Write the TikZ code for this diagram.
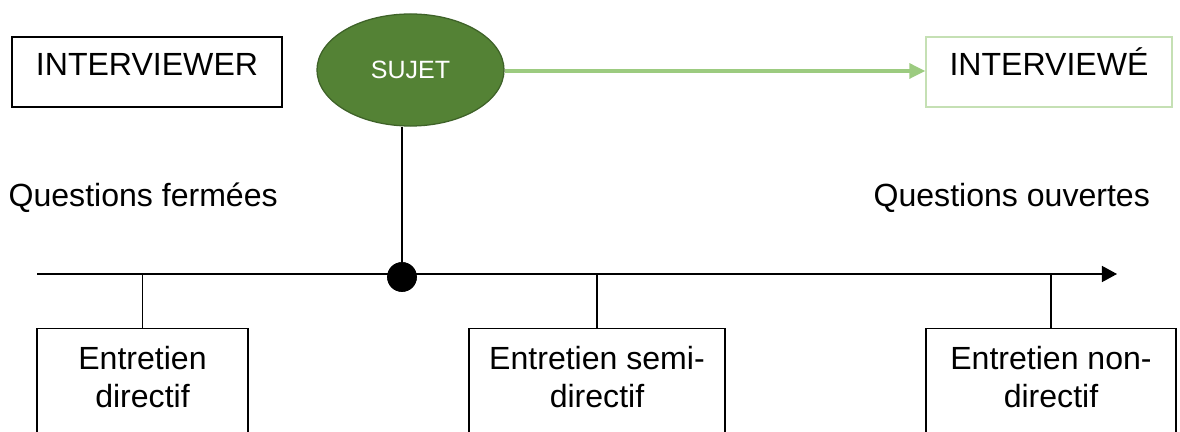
\documentclass[tikz,border=0pt]{standalone}
\usepackage{fontspec}
\setmainfont{Liberation Sans}
\usepackage{xcolor}
\usetikzlibrary{shapes, arrows.meta, positioning}
\definecolor{sujetgreen}{HTML}{548235}
\definecolor{sujetdark}{HTML}{3E6228}
\definecolor{arrowgreen}{HTML}{9CCB80}
\definecolor{boxgreen}{HTML}{C5E0B4}

\begin{document}
\begin{tikzpicture}[x=0.025cm, y=-0.025cm, line width=0.9pt]

    % Define styles for the different parts
    \tikzstyle{role} = [draw, rectangle, minimum height=1.75cm, text height=0.72em, text depth=0.25em, font=\fontsize{22.8pt}{26.8pt}\selectfont]
    \tikzstyle{topic} = [draw=sujetdark, fill=sujetgreen, ellipse, inner sep=0pt, minimum width=4.675cm, minimum height=2.8cm, text=white, font=\fontsize{17.8pt}{21pt}\selectfont]
    \tikzstyle{entbox} = [draw, rectangle, anchor=north, align=center, inner ysep=0pt, text height=1.975cm, text depth=2.6cm, font=\fontsize{22.8pt}{26.8pt}\selectfont]
    \tikzstyle{side} = [anchor=base west, inner sep=0pt, font=\fontsize{22.8pt}{26.8pt}\selectfont]
    \tikzstyle{axis} = [-{Triangle[length=10.7pt, width=11.4pt]}, line width=1pt]
    \tikzstyle{link} = [-{Triangle[length=11.4pt, width=10.7pt]}, line width=2.2pt, draw=arrowgreen, color=arrowgreen]

    \clip (0,0) rectangle (1180,432);

    \node (interviewer) [role, minimum width=6.75cm] at (147,72) {INTERVIEWER};
    \node (sujet) [topic] at (410.5,70) {SUJET};
    \node (interviewe) [role, draw=boxgreen, minimum width=6.15cm] at (1049,72) {INTERVIEWÉ};

    \node (fermees) [side] at (8,207) {Questions fermées};
    \node (ouvertes) [side] at (873,207) {Questions ouvertes};

    \coordinate (axl) at (37,274);
    \coordinate (axr) at (1117,274);
    \node (dot) [circle, fill=black, inner sep=0pt, minimum size=0.74cm] at (402,277) {};

    \node (directif) [entbox, minimum width=5.275cm] at (142.5,328) {Entretien\\directif};
    \node (semi) [entbox, minimum width=6.4cm] at (597,328) {Entretien semi-\\directif};
    \node (nondir) [entbox, minimum width=6.25cm] at (1051,328) {Entretien non-\\directif};

    \draw[link] (sujet.east |- 0,71) -- (interviewe.west |- 0,71);
    \draw (sujet.south -| dot) -- (dot);
    \draw[axis] (axl) -- (axr);
    \draw (directif.north) -- (directif.north |- axl);
    \draw (semi.north) -- (semi.north |- axl);
    \draw (nondir.north) -- (nondir.north |- axl);
    \node [circle, fill=black, inner sep=0pt, minimum size=0.74cm] at (dot) {};

\end{tikzpicture}
\end{document}
